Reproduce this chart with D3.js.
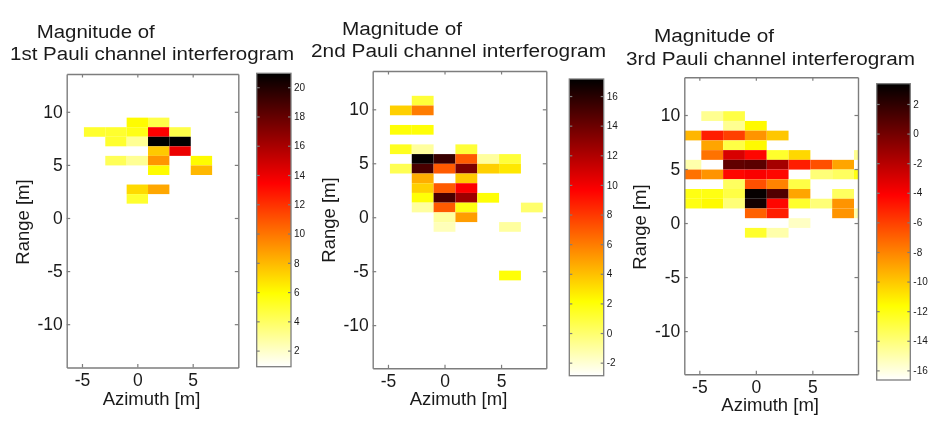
<!DOCTYPE html>
<html>
<head>
<meta charset="utf-8">
<script src="https://cdnjs.cloudflare.com/ajax/libs/d3/7.8.5/d3.min.js"></script>
<style>
  html, body { margin: 0; padding: 0; background: #fff; }
  svg { display: block; filter: blur(0.6px); }
  text { font-family: "Liberation Sans", Arial, sans-serif; fill: #1a1a1a; }
</style>
</head>
<body>
<div id="chart"></div>
<script>
// cell centres shared by all three interferograms
var azimuthBins = [-5.79, -3.86, -1.93, 0, 1.93, 3.86, 5.79, 7.72, 9.65];
var rangeBins = [10.8, 9.9, 9.0, 8.1, 7.2, 6.3, 5.4, 4.5, 3.6, 2.7, 1.8, 0.9, 0, -0.9, -5.4];
var _ = null;

// magnitude, one row per rangeBins entry
var pauli1 = [
  [_, _, _, _, _, _, _, _, _],
  [_, _, _, _, _, _, _, _, _],
  [_, _, _, 6, 4.5, _, _, _, _],
  [_, 5, 5, 5.5, 13.5, 4.5, _, _, _],
  [_, _, 5, 3, 21, 21, _, _, _],
  [_, _, _, _, 7.5, 14, _, _, _],
  [_, _, 4.2, 3, 9, _, 6, _, _],
  [_, _, _, _, 6, _, 8, _, _],
  [_, _, _, _, _, _, _, _, _],
  [_, _, _, 7, 8.5, _, _, _, _],
  [_, _, _, 5, _, _, _, _, _],
  [_, _, _, _, _, _, _, _, _],
  [_, _, _, _, _, _, _, _, _],
  [_, _, _, _, _, _, _, _, _],
  [_, _, _, _, _, _, _, _, _]
];
var pauli2 = [
  [_, _, 1, _, _, _, _, _, _],
  [_, 3.5, 6, _, _, _, _, _, _],
  [_, _, _, _, _, _, _, _, _],
  [_, 2, 2, _, _, _, _, _, _],
  [_, _, _, _, _, _, _, _, _],
  [_, 1.5, -1, _, 1, _, _, _, _],
  [_, _, 17, 15.5, 7, -1, 1, _, _],
  [_, 0.5, 15, 7, 13.5, 3.5, 2.8, _, _],
  [_, _, 4.5, _, 3.7, _, _, _, _],
  [_, _, 3.5, 7, 9.7, _, _, _, _],
  [_, _, 2, 15, 12.5, 2, _, _, _],
  [_, _, -1, 7, 1.8, _, _, 0, _],
  [_, _, _, -1, 5, _, _, _, _],
  [_, _, _, -1.5, _, _, -1, _, _],
  [_, _, _, _, _, _, 2, _, _]
];
var pauli3 = [
  [_, _, _, _, _, _, _, _, _],
  [_, -14.5, -13, _, _, _, _, _, _],
  [_, _, -14.5, -11.5, _, _, _, _, _],
  [-9.5, -5, -6, -8.5, -10, _, _, _, _],
  [_, -9, -13, -11.5, _, _, _, _, _],
  [_, -7.5, -3, -4.3, -12.5, -10.5, _, _, -14.5],
  [-15, _, 0.5, 0.7, -1.5, -5, -6.5, -9, _],
  [-7.5, -8.5, -4.3, -4, -4.3, _, -14, -13.5, -12],
  [_, _, -13.5, -6.5, -8, -13, _, _, _],
  [-12, -12, -13, 3.2, 1, -9, _, -13.5, _],
  [-12, -11.5, -14, 2.8, -4.3, -12.5, -14, -8.5, _],
  [_, _, _, -7, -5, _, _, -8.5, -15],
  [_, _, _, _, _, -15.5, _, _, _],
  [_, _, _, -12.5, -15, _, _, _, _],
  [_, _, _, _, _, _, _, _, _]
];

var axisTicks = [-5, 0, 5];
var rangeTicks = [-10, -5, 0, 5, 10];
var barTicks1 = [2, 4, 6, 8, 10, 12, 14, 16, 18, 20];
var barTicks2 = [-2, 0, 2, 4, 6, 8, 10, 12, 14, 16];
var barTicks3 = [-16, -14, -12, -10, -8, -6, -4, -2, 0, 2];
var titleLine1 = "Magnitude of";
var titleLines2 = ["1st Pauli channel interferogram", "2nd Pauli channel interferogram", "3rd Pauli channel interferogram"];

var width = 936;
var height = 428;
var gray = "#7d7d7d";

var panels = [
  {values: pauli1, ticks: barTicks1, title: titleLines2[0], box: [66.7, 238.3, 74, 367.5], xd: [-6.38, 9.12], yd: [13.56, -14.08],
   bar: [256.7, 291, 73.3, 366.7], cd: [0.9, 20.95], t1: [36.7, 38, 118], t2: [10, 60, 284], ylab: [29, 222], xlab: 405},
  {values: pauli2, ticks: barTicks2, title: titleLines2[1], box: [372.7, 546.3, 71, 368.3], xd: [-6.35, 9.0], yd: [13.55, -14.0],
   bar: [569.3, 603.7, 79, 375.7], cd: [-2.88, 17.15], t1: [342, 35, 120], t2: [311, 57, 295], ylab: [335, 220], xlab: 405},
  {values: pauli3, ticks: barTicks3, title: titleLines2[2], box: [684.3, 858, 77.3, 374.3], xd: [-6.33, 9.04], yd: [13.49, -14.0],
   bar: [876.7, 910.3, 83.7, 380], cd: [-16.65, 3.37], t1: [654, 42, 120], t2: [626, 65, 289], ylab: [646, 227], xlab: 411}
];

// matlab "hot" flipped: black at the top of the bar, white at the bottom
var hotStops = [0, 0.375, 0.75, 1];
var hot = d3.scaleLinear()
  .domain(hotStops)
  .range(["#000000", "#ff0000", "#ffff00", "#ffffff"])
  .clamp(true);

var svg = d3.select("#chart").append("svg")
  .attr("width", width)
  .attr("height", height);

var defs = svg.append("defs");
defs.append("linearGradient")
  .attr("id", "hotbar")
  .attr("x1", 0).attr("y1", 0).attr("x2", 0).attr("y2", 1)
  .selectAll("stop")
  .data(hotStops)
  .enter()
  .append("stop")
  .attr("offset", function(d) { return d; })
  .attr("stop-color", function(d) { return hot(d); });

function styleAxis(g) {
  g.selectAll(".domain").attr("stroke", gray).attr("stroke-width", 1.4);
  g.selectAll(".tick line").attr("stroke", gray).attr("stroke-width", 1.2);
}

panels.forEach(function(p, idx) {
  var x = d3.scaleLinear().domain(p.xd).range([p.box[0], p.box[1]]);
  var y = d3.scaleLinear().domain(p.yd).range([p.box[2], p.box[3]]);
  var colorAt = function(v) {
    return hot((p.cd[1] - v) / (p.cd[1] - p.cd[0]));
  };

  var g = svg.append("g");

  g.append("clipPath").attr("id", "clip" + idx)
    .append("rect")
    .attr("x", p.box[0]).attr("y", p.box[2])
    .attr("width", p.box[1] - p.box[0]).attr("height", p.box[3] - p.box[2]);

  var cells = [];
  p.values.forEach(function(row, r) {
    row.forEach(function(v, c) {
      if (v !== null) cells.push({az: azimuthBins[c], rg: rangeBins[r], v: v});
    });
  });

  g.append("g").attr("clip-path", "url(#clip" + idx + ")")
    .selectAll("rect")
    .data(cells)
    .enter()
    .append("rect")
    .attr("x", function(d) { return x(d.az - 0.965); })
    .attr("width", function(d) { return x(d.az + 0.965) - x(d.az - 0.965); })
    .attr("y", function(d) { return y(d.rg + 0.45); })
    .attr("height", function(d) { return y(d.rg - 0.45) - y(d.rg + 0.45); })
    .attr("fill", function(d) { return colorAt(d.v); });

  // axes, ticks point inwards like matlab
  var fmt = function(d) { return String(d); };
  var none = function() { return ""; };

  g.append("g").attr("transform", "translate(0," + p.box[3] + ")")
    .call(d3.axisBottom(x).tickValues(axisTicks).tickFormat(fmt).tickSizeInner(-3.5).tickSizeOuter(0).tickPadding(6))
    .call(styleAxis)
    .selectAll("text").attr("font-size", 17.5).attr("font-family", "Liberation Sans").attr("fill", "#1a1a1a");
  g.append("g").attr("transform", "translate(0," + p.box[2] + ")")
    .call(d3.axisTop(x).tickValues(axisTicks).tickFormat(none).tickSizeInner(-3.5).tickSizeOuter(0))
    .call(styleAxis);
  g.append("g").attr("transform", "translate(" + p.box[0] + ",0)")
    .call(d3.axisLeft(y).tickValues(rangeTicks).tickFormat(fmt).tickSizeInner(-3.5).tickSizeOuter(0).tickPadding(4))
    .call(styleAxis)
    .selectAll("text").attr("font-size", 17.5).attr("font-family", "Liberation Sans").attr("fill", "#1a1a1a");
  g.append("g").attr("transform", "translate(" + p.box[1] + ",0)")
    .call(d3.axisRight(y).tickValues(rangeTicks).tickFormat(none).tickSizeInner(-3.5).tickSizeOuter(0))
    .call(styleAxis);

  // colorbar
  var c = d3.scaleLinear().domain(p.cd).range([p.bar[3], p.bar[2]]);

  g.append("rect")
    .attr("x", p.bar[0]).attr("y", p.bar[2])
    .attr("width", p.bar[1] - p.bar[0]).attr("height", p.bar[3] - p.bar[2])
    .attr("fill", "url(#hotbar)").attr("stroke", gray).attr("stroke-width", 1.3);

  g.append("g").attr("transform", "translate(" + p.bar[1] + ",0)")
    .call(d3.axisRight(c).tickValues(p.ticks).tickFormat(fmt).tickSizeInner(-3).tickSizeOuter(0).tickPadding(3))
    .call(styleAxis)
    .call(function(a) { a.select(".domain").remove(); })
    .selectAll("text").attr("font-size", 10).attr("font-family", "Liberation Sans").attr("fill", "#333");
  g.append("g").attr("transform", "translate(" + p.bar[0] + ",0)")
    .call(d3.axisLeft(c).tickValues(p.ticks).tickFormat(none).tickSizeInner(-3).tickSizeOuter(0))
    .call(styleAxis)
    .call(function(a) { a.select(".domain").remove(); });

  // labels
  g.append("text")
    .attr("x", (p.box[0] + p.box[1]) / 2 - 1)
    .attr("y", p.xlab)
    .attr("text-anchor", "middle")
    .attr("font-size", 18.5)
    .text("Azimuth [m]");
  g.append("text")
    .attr("transform", "translate(" + p.ylab[0] + "," + p.ylab[1] + ") rotate(-90)")
    .attr("text-anchor", "middle")
    .attr("font-size", 18.5)
    .text("Range [m]");

  g.append("text")
    .attr("x", p.t1[0]).attr("y", p.t1[1])
    .attr("font-size", 18)
    .attr("textLength", p.t1[2]).attr("lengthAdjust", "spacingAndGlyphs")
    .text(titleLine1);
  g.append("text")
    .attr("x", p.t2[0]).attr("y", p.t2[1])
    .attr("font-size", 18)
    .attr("textLength", p.t2[2]).attr("lengthAdjust", "spacingAndGlyphs")
    .text(p.title);
});
</script>
</body>
</html>
